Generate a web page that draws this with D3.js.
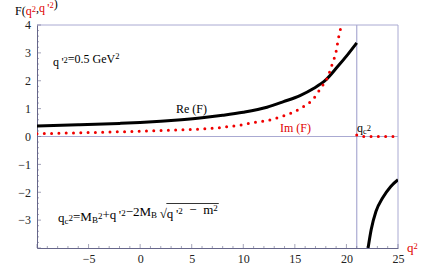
<!DOCTYPE html>
<html>
<head>
<meta charset="utf-8">
<script src="https://d3js.org/d3.v7.min.js"></script>
<style>
  body { margin: 0; background: white; }
  svg, svg text, svg tspan { font-family: "Liberation Serif", "Times New Roman", serif; }
</style>
</head>
<body>
<script>
// values
const reBelow = [[-10, 0.38], [-6, 0.42], [-2, 0.47], [0, 0.5], [4, 0.6], [6, 0.67], [8, 0.76],
  [10, 0.87], [12.3, 1.05], [13.9, 1.25], [15.5, 1.47], [16.85, 1.73], [18, 2.03],
  [19.15, 2.51], [20.1, 2.93], [21, 3.36]]
const reAbove = [[22.1, -4], [22.4, -3.34], [22.86, -2.69], [23.5, -2.21], [24.3, -1.79], [25, -1.55]]
const imBelow = [[-10, 0.1], [-5, 0.14], [0, 0.19], [4, 0.24], [6, 0.27], [8, 0.33], [10, 0.43],
  [11, 0.5], [12.3, 0.57], [13.9, 0.74], [15.6, 1.02], [16.85, 1.38], [17.5, 1.73],
  [18.2, 2.15], [18.65, 2.63], [19, 3.05], [19.2, 3.47], [19.4, 3.82], [19.6, 4.0], [19.8, 4.5]]
const imAbove = [[21, 0.05], [21.3, 0], [25, 0]]
const qc2 = 21
const xTicks = [-5, 0, 5, 10, 15, 20, 25]
const yTicks = [-3, -2, -1, 0, 1, 2, 3, 4]

const width = 436, height = 269
const margin = {top: 25, right: 38, bottom: 21, left: 37}

const svg = d3.select('body').append('svg')
  .attr('width', width).attr('height', height)
  .attr('font-size', 12)

const x = d3.scaleLinear().domain([-10, 25]).range([margin.left, width - margin.right])
const y = d3.scaleLinear().domain([-4, 4]).range([height - margin.bottom, margin.top])

svg.append('clipPath').attr('id', 'clip')
  .append('rect')
    .attr('x', x(-10)).attr('y', y(4))
    .attr('width', x(25) - x(-10)).attr('height', y(-4) - y(4))

const light = '#aaaad2', dark = '#66668a'

// frame top and right
svg.append('line').attr('x1', x(-10)).attr('x2', x(25)).attr('y1', y(4)).attr('y2', y(4))
  .attr('stroke', light)
svg.append('line').attr('x1', x(25)).attr('x2', x(25)).attr('y1', y(4)).attr('y2', y(-4))
  .attr('stroke', light)
// zero line and qc^2 line
svg.append('line').attr('x1', x(-10)).attr('x2', x(25)).attr('y1', y(0)).attr('y2', y(0))
  .attr('stroke', light).attr('stroke-width', 1.2)
svg.append('line').attr('x1', x(qc2)).attr('x2', x(qc2)).attr('y1', y(4)).attr('y2', y(-4))
  .attr('stroke', light).attr('stroke-width', 1.2)

const fmt = d => d < 0 ? '\u2212' + Math.abs(d) : d

// left axis
const ga = svg.append('g').attr('transform', `translate(${x(-10)},0)`)
  .call(d3.axisLeft(y).tickValues(yTicks).tickSize(0).tickPadding(6).tickFormat(fmt))
ga.attr('font-family', null).attr('font-size', 12)
ga.select('.domain').attr('stroke', dark)
ga.selectAll('text').attr('fill', '#222')
svg.append('g').selectAll('line').data(d3.range(-40, 41, 2).map(d => d / 10))
  .join('line')
    .attr('x1', x(-10)).attr('x2', d => x(-10) + (Number.isInteger(d) ? 4 : 2))
    .attr('y1', d => y(d)).attr('y2', d => y(d))
    .attr('stroke', dark).attr('stroke-width', 0.6)

// bottom axis
const gb = svg.append('g').attr('transform', `translate(0,${y(-4)})`)
  .call(d3.axisBottom(x).tickValues(xTicks).tickSize(0).tickPadding(6).tickFormat(fmt))
gb.attr('font-family', null).attr('font-size', 12)
gb.select('.domain').attr('stroke', dark)
gb.selectAll('text').attr('fill', '#222')
svg.append('g').selectAll('line').data(d3.range(-10, 26, 1))
  .join('line')
    .attr('x1', d => x(d)).attr('x2', d => x(d))
    .attr('y1', y(-4)).attr('y2', d => y(-4) - (d % 5 === 0 ? 4 : 2))
    .attr('stroke', dark).attr('stroke-width', 0.6)

// curves
const line = d3.line().x(d => x(d[0])).y(d => y(d[1])).curve(d3.curveMonotoneX)
const plot = svg.append('g').attr('clip-path', 'url(#clip)')

;[reBelow, reAbove].forEach(data => {
  plot.append('path').datum(data).attr('d', line)
    .attr('fill', 'none').attr('stroke', 'black').attr('stroke-width', 3)
})
;[imBelow, imAbove].forEach(data => {
  plot.append('path').datum(data).attr('d', line)
    .attr('fill', 'none').attr('stroke', '#f00000').attr('stroke-width', 3)
    .attr('stroke-linecap', 'round').attr('stroke-dasharray', '0 7.3')
})

// labels
const red = '#e00000'
const pr = '\u2009\''
let ss = 8.5
const sup = (t, s, c) => t.append('tspan').attr('dy', -3.5).attr('font-size', ss).attr('fill', c || null).text(s)
  && t.append('tspan').attr('dy', 3.5).text('')
const sub = (t, s) => t.append('tspan').attr('dy', 2).attr('font-size', ss).text(s)
  && t.append('tspan').attr('dy', -2).text('')
const norm = (t, s, c) => t.append('tspan').attr('fill', c || null).text(s)

let t = svg.append('text').attr('x', 15).attr('y', 15)
norm(t, 'F('); norm(t, 'q', red); sup(t, '2', red); norm(t, ','); norm(t, 'q' + pr, red); sup(t, '2', red); norm(t, ')')

t = svg.append('text').attr('x', 53).attr('y', 66)
norm(t, 'q' + pr); sup(t, '2'); norm(t, '=0.5 GeV'); sup(t, '2')

svg.append('text').attr('x', 176).attr('y', 113).text('Re (F)')
svg.append('text').attr('x', 280).attr('y', 132).attr('fill', red).text('Im (F)')

t = svg.append('text').attr('x', 357).attr('y', 132)
norm(t, 'q'); sub(t, 'c'); sup(t, '2')

t = svg.append('text').attr('x', 407).attr('y', 252).attr('fill', red).attr('font-size', 13)
norm(t, 'q'); sup(t, '2')

ss = 9
t = svg.append('text').attr('x', 58).attr('y', 222).attr('font-size', 13)
norm(t, 'q'); sub(t, 'c'); sup(t, '2'); norm(t, '=M'); sub(t, 'B'); sup(t, '2')
norm(t, '+q' + pr); sup(t, '2'); norm(t, '\u22122M'); sub(t, 'B')
const sq = norm(t, '\u2009\u221a')
norm(t, 'q' + pr); sup(t, '2'); norm(t, '\u2002\u2212\u2002m'); sup(t, '2')
// overline for the square root
const sqEnd = sq.node().getStartPositionOfChar(0).x + sq.node().getComputedTextLength()
const tb = t.node().getBBox()
svg.append('line').attr('x1', sqEnd - 0.5).attr('x2', tb.x + tb.width + 1)
  .attr('y1', tb.y + 1.5).attr('y2', tb.y + 1.5).attr('stroke', 'black').attr('stroke-width', 0.8)
</script>
</body>
</html>
